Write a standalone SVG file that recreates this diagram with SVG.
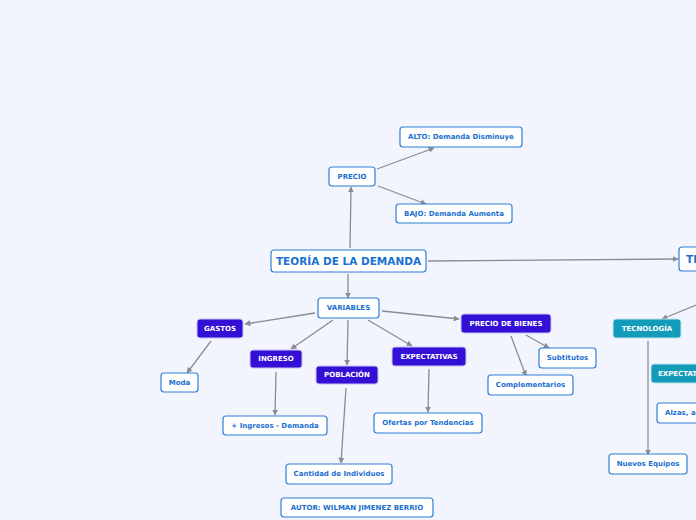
<svg xmlns="http://www.w3.org/2000/svg" width="696" height="520" viewBox="0 0 696 520">
<style>
text{font-family:"DejaVu Sans",Verdana,sans-serif;font-weight:bold;font-size:7px;text-anchor:middle;dominant-baseline:central}
.w rect{fill:#fff;stroke:#2f7fd6;stroke-width:1.2}
.w text{fill:#1a6fd0}
.p rect{fill:#3410d6;stroke:#c8c0f0;stroke-width:1}
.p text{fill:#fff}
.t rect{fill:#139bba;stroke:#c0e4ee;stroke-width:1}
.t text{fill:#fff}
.big text{font-size:10.5px}
#c line{stroke:#8a8c94;stroke-width:1.3;marker-end:url(#a)}
</style>
<defs><marker id="a" viewBox="0 0 10 10" refX="9" refY="5" markerWidth="6" markerHeight="6" orient="auto" markerUnits="userSpaceOnUse"><path d="M0,0L10,5L0,10z" fill="#8a8c94"/></marker></defs>
<rect width="696" height="520" fill="#f2f5fe"/>
<g id="c">
<line x1="350" y1="248" x2="351" y2="187"/>
<line x1="377" y1="169" x2="434" y2="148"/>
<line x1="378" y1="186" x2="426" y2="204"/>
<line x1="428" y1="261" x2="678" y2="259"/>
<line x1="348" y1="274" x2="348" y2="298"/>
<line x1="315" y1="313" x2="245" y2="324"/>
<line x1="333" y1="320" x2="291" y2="349"/>
<line x1="348" y1="320" x2="347" y2="365"/>
<line x1="368" y1="320" x2="412" y2="346"/>
<line x1="382" y1="311" x2="459" y2="319"/>
<line x1="211" y1="341" x2="187" y2="373"/>
<line x1="276" y1="372" x2="275" y2="415"/>
<line x1="346" y1="388" x2="341" y2="463"/>
<line x1="429" y1="369" x2="428" y2="412"/>
<line x1="526" y1="335" x2="549" y2="348"/>
<line x1="511" y1="336" x2="526" y2="376"/>
<line x1="696" y1="305" x2="662" y2="319"/>
<line x1="648" y1="341" x2="648" y2="455"/>
</g>
<g id="precio" class="w"><rect x="329" y="167" width="46" height="19" rx="3"/><text x="352" y="176.5">PRECIO</text></g>
<g id="alto" class="w"><rect x="400" y="127" width="122" height="20" rx="3"/><text x="461" y="137">ALTO: Demanda Disminuye</text></g>
<g id="bajo" class="w"><rect x="396" y="204" width="116" height="19" rx="3"/><text x="454" y="213.5">BAJO: Demanda Aumenta</text></g>
<g id="teoria" class="w big"><rect x="271" y="250" width="155" height="22" rx="3"/><text x="348.5" y="261">TEORÍA DE LA DEMANDA</text></g>
<g id="te2" class="w big"><rect x="679" y="247" width="30" height="24" rx="3"/><text x="686" y="259" style="text-anchor:start">TE</text></g>
<g id="variables" class="w"><rect x="318" y="298" width="61" height="20" rx="3"/><text x="348.5" y="308">VARIABLES</text></g>
<g id="gastos" class="p"><rect x="197" y="319" width="46" height="19" rx="3"/><text x="220" y="328.5">GASTOS</text></g>
<g id="ingreso" class="p"><rect x="250" y="350" width="52" height="18" rx="3"/><text x="276" y="359">INGRESO</text></g>
<g id="poblacion" class="p"><rect x="316" y="366" width="62" height="18" rx="3"/><text x="347" y="375">POBLACIÓN</text></g>
<g id="expect" class="p"><rect x="392" y="347" width="74" height="19" rx="3"/><text x="429" y="356.5">EXPECTATIVAS</text></g>
<g id="pbienes" class="p"><rect x="461" y="314" width="90" height="19" rx="3"/><text x="506" y="323.5">PRECIO DE BIENES</text></g>
<g id="subt" class="w"><rect x="539" y="348" width="57" height="20" rx="3"/><text x="567.5" y="358">Subtitutos</text></g>
<g id="comp" class="w"><rect x="488" y="375" width="85" height="20" rx="3"/><text x="530.5" y="385">Complementarios</text></g>
<g id="moda" class="w"><rect x="161" y="373" width="37" height="19" rx="3"/><text x="179.5" y="382.5">Moda</text></g>
<g id="ingdem" class="w"><rect x="223" y="416" width="104" height="19" rx="3"/><text x="275" y="425.5">+ Ingresos - Demanda</text></g>
<g id="ofertas" class="w"><rect x="374" y="413" width="108" height="20" rx="3"/><text x="428" y="423">Ofertas por Tendencias</text></g>
<g id="cantidad" class="w"><rect x="286" y="464" width="106" height="20" rx="3"/><text x="339" y="474">Cantidad de Individuos</text></g>
<g id="autor" class="w"><rect x="281" y="498" width="152" height="19" rx="3"/><text x="357" y="507.5">AUTOR: WILMAN JIMENEZ BERRIO</text></g>
<g id="tecno" class="t"><rect x="613" y="319" width="68" height="19" rx="3"/><text x="647" y="328.5">TECNOLOGÍA</text></g>
<g id="expect2" class="t"><rect x="651" y="364" width="60" height="19" rx="3"/><text x="658" y="373.5" style="text-anchor:start">EXPECTATIVAS</text></g>
<g id="alzas" class="w"><rect x="657" y="403" width="60" height="20" rx="3"/><text x="665" y="413" style="text-anchor:start">Alzas, a</text></g>
<g id="nuevos" class="w"><rect x="609" y="454" width="78" height="20" rx="3"/><text x="648" y="464">Nuevos Equipos</text></g>
</svg>
